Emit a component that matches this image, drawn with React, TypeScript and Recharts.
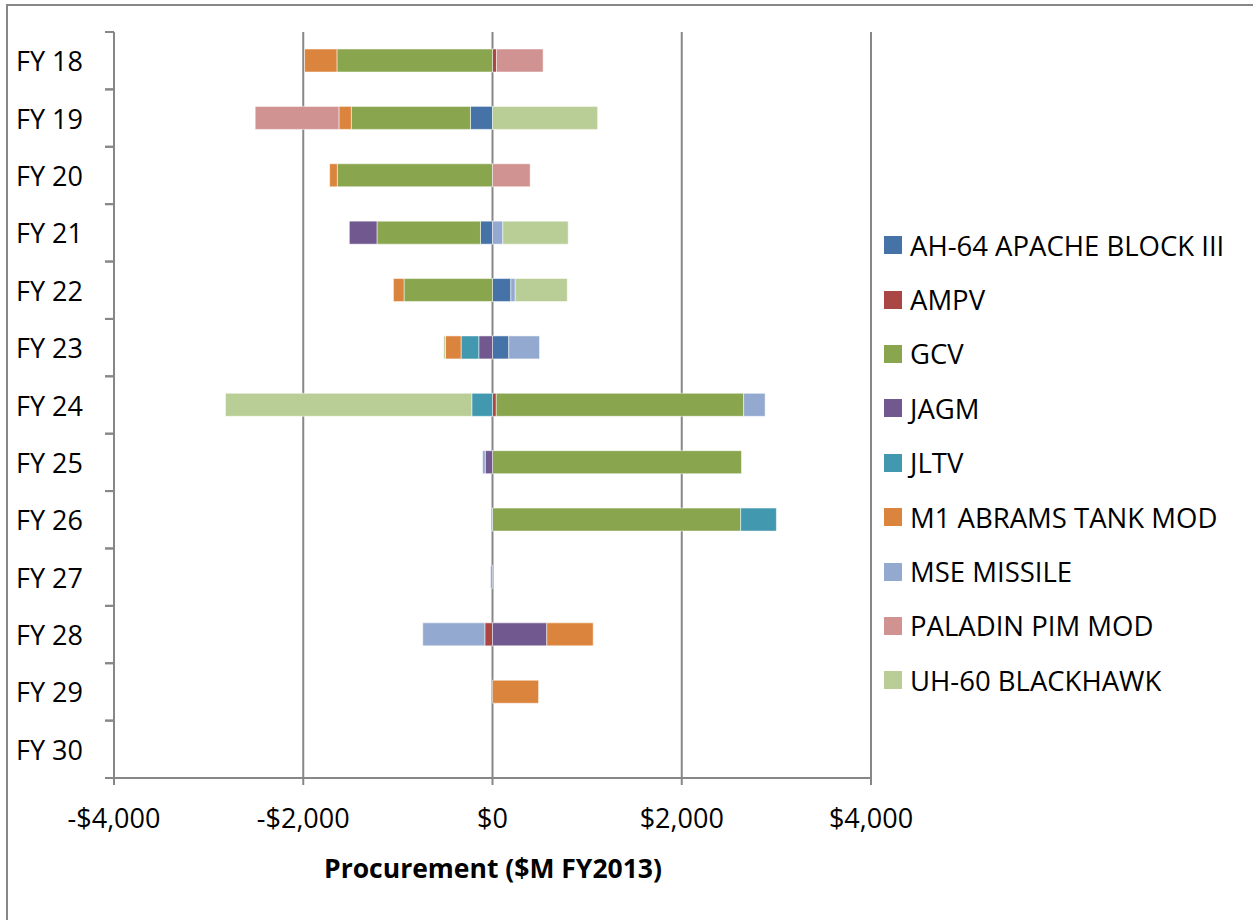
import { BarChart, Bar, XAxis, YAxis, CartesianGrid } from "recharts"

const years = ["FY 18", "FY 19", "FY 20", "FY 21", "FY 22", "FY 23", "FY 24", "FY 25", "FY 26", "FY 27", "FY 28", "FY 29", "FY 30"]

const apache = [0, -233, 0, -127, 194, 172, 0, 0, 0, 0, 0, 0, 0]
const ampv = [42, 0, 0, 0, 0, 0, 40, 0, 0, 0, -81, 0, 0]
const gcv = [-1644, -1259, -1640, -1094, -935, 0, 2614, 2631, 2623, 0, 0, 0, 0]
const jagm = [0, 0, 0, -292, 0, -145, 0, -77, 0, 0, 574, 0, 0]
const jltv = [0, 0, 0, 0, 0, -187, -219, 0, 377, 0, 0, 0, 0]
const abrams = [-342, -131, -81, 0, -112, -165, 0, 0, 0, 0, 490, 487, 0]
const mse = [0, 0, 0, 109, 46, 325, 227, -28, -15, -21, -656, 0, 0]
const paladin = [493, -885, 398, 0, 0, 0, 0, 0, 0, 0, 0, 0, 0]
const blackhawk = [0, 1111, 0, 691, 550, -18, -2603, 0, 0, 0, 0, 0, 0]

const xTicks = [-4000, -2000, 0, 2000, 4000]

const series = [
  { key: "apache", name: "AH-64 APACHE BLOCK III", values: apache, color: "#4572A7" },
  { key: "ampv", name: "AMPV", values: ampv, color: "#AA4643" },
  { key: "gcv", name: "GCV", values: gcv, color: "#89A54E" },
  { key: "jagm", name: "JAGM", values: jagm, color: "#71588F" },
  { key: "jltv", name: "JLTV", values: jltv, color: "#4198AF" },
  { key: "abrams", name: "M1 ABRAMS TANK MOD", values: abrams, color: "#DB843D" },
  { key: "mse", name: "MSE MISSILE", values: mse, color: "#93A9CF" },
  { key: "paladin", name: "PALADIN PIM MOD", values: paladin, color: "#D19392" },
  { key: "blackhawk", name: "UH-60 BLACKHAWK", values: blackhawk, color: "#B9CD96" },
]

const data = years.map((year, i) => {
  const row: Record<string, string | number> = { year }
  series.forEach((s) => {
    row[s.key] = s.values[i]
  })
  return row
})

const FONT = "'Open Sans', sans-serif"
const GRID = "#878787"
const BAND = 746 / 13

const money = (v: number) => (v < 0 ? "-$" : "$") + Math.abs(v).toLocaleString("en-US")

function YearTick(props: any) {
  const { y, payload } = props
  return (
    <g>
      <line x1={105} x2={114} y1={y - BAND / 2} y2={y - BAND / 2} stroke={GRID} strokeWidth={2} />
      <line x1={105} x2={114} y1={y + BAND / 2} y2={y + BAND / 2} stroke={GRID} strokeWidth={2} />
      <text x={16} y={y} dominantBaseline="central" fontSize={27} fontFamily={FONT} fill="#000">
        {payload.value}
      </text>
    </g>
  )
}

// legend drawn beside the plot, Excel style
function LegendBox() {
  return (
    <div style={{ position: "absolute", left: 884, top: 218, fontFamily: FONT, fontSize: 27.5, color: "#000" }}>
      {series.map((s) => (
        <div key={s.key} style={{ display: "flex", alignItems: "center", height: 54.4 }}>
          <span style={{ width: 18, height: 18, background: s.color, marginRight: 8 }} />
          <span style={{ whiteSpace: "nowrap" }}>{s.name}</span>
        </div>
      ))}
    </div>
  )
}

export default function App() {
  return (
    <div style={{ position: "absolute", left: 0, top: 0, width: 1253, height: 920, overflow: "hidden", background: "#fff" }}>
      <BarChart
        width={1253}
        height={920}
        data={data}
        layout="vertical"
        stackOffset="sign"
        barSize={23}
        margin={{ top: 32, right: 382, bottom: 82, left: 0 }}
      >
        <CartesianGrid horizontal={false} stroke={GRID} strokeWidth={2} />
        <XAxis
          type="number"
          domain={[-4000, 4000]}
          ticks={xTicks}
          tickFormatter={money}
          axisLine={{ stroke: GRID, strokeWidth: 2 }}
          tickLine={{ stroke: GRID, strokeWidth: 2 }}
          tickSize={7}
          tickMargin={24}
          height={60}
          tick={{ fontSize: 27, fontFamily: FONT, fill: "#000" }}
          label={{
            content: () => (
              <text x={493} y={868} textAnchor="middle" dominantBaseline="central" fontSize={26.5} fontWeight="bold" fontFamily={FONT} fill="#000">
                Procurement ($M FY2013)
              </text>
            ),
          }}
        />
        <YAxis
          type="category"
          dataKey="year"
          width={114}
          axisLine={{ stroke: GRID, strokeWidth: 2 }}
          tickLine={false}
          tick={<YearTick />}
          interval={0}
        />
        {series.map((s) => (
          <Bar
            key={s.key}
            dataKey={s.key}
            name={s.name}
            stackId="a"
            fill={s.color}
            stroke="rgba(255,255,255,0.5)"
            strokeWidth={1}
            isAnimationActive={false}
          />
        ))}
      </BarChart>
      <LegendBox />
      <div
        style={{
          position: "absolute",
          left: 6,
          top: 4,
          width: 1300,
          height: 1000,
          borderLeft: `2px solid ${GRID}`,
          borderTop: `2px solid ${GRID}`,
          pointerEvents: "none",
          zIndex: 2,
        }}
      />
    </div>
  )
}
